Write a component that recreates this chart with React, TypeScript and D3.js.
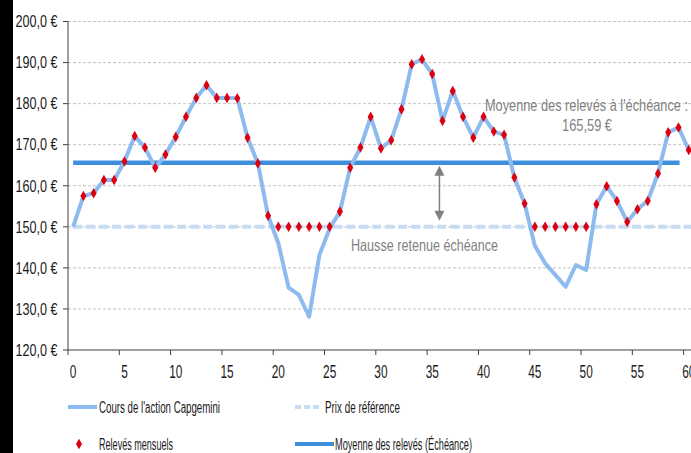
import React from "react";
import * as d3 from "d3";

// cours de l'action, mois 0 a 60
const cours = [
  150.0, 157.5, 158.2, 161.4, 161.4, 165.9, 172.1, 169.3, 164.4, 167.6, 171.9,
  176.8, 181.4, 184.5, 181.4, 181.4, 181.3, 171.7, 165.5, 152.7, 146.0,
  135.2, 133.4, 128.1, 143.1, 149.6, 153.7, 164.4, 169.3, 176.8, 169.1,
  171.1, 178.6, 189.6, 190.8, 187.2, 175.8, 183.1, 176.8, 171.7, 176.8,
  173.2, 172.4, 162.0, 155.7, 145.4, 141.1, 138.3, 135.4, 140.7, 139.5,
  155.5, 159.9, 156.3, 151.2, 154.3, 156.3, 163.0, 173.0, 174.2, 168.7,
];

// releves mensuels, mois 1 a 60
const releves = [
  157.5, 158.2, 161.4, 161.4, 165.9, 172.1, 169.3, 164.4, 167.6, 171.9,
  176.8, 181.4, 184.5, 181.4, 181.4, 181.3, 171.7, 165.5, 152.7, 150.0,
  150.0, 150.0, 150.0, 150.0, 150.0, 153.7, 164.4, 169.3, 176.8, 169.1,
  171.1, 178.6, 189.6, 190.8, 187.2, 175.8, 183.1, 176.8, 171.7, 176.8,
  173.2, 172.4, 162.0, 155.7, 150.0, 150.0, 150.0, 150.0, 150.0, 150.0,
  155.5, 159.9, 156.3, 151.2, 154.3, 156.3, 163.0, 173.0, 174.2, 168.7,
];

const prixReference = 150;
const moyenne = 165.59;
const moyenneSpan = [0, 59.1];
const referenceSpan = [0, 60.5];
const yTicks = [120, 130, 140, 150, 160, 170, 180, 190, 200];
const xTicks = [0, 5, 10, 15, 20, 25, 30, 35, 40, 45, 50, 55, 60];

const FONT = "'Liberation Sans', Arial, sans-serif";
const C_COURS = "#8dbbef";
const C_REF = "#c6dcf3";
const C_MOY = "#3d8fdc";
const C_MARK = "#dc0010";
const C_NOTE = "#7f7f7f";

const fmtEuro = (v: number) => v.toFixed(1).replace(".", ",") + " €";

// texte etroit (facon Arial Narrow) : largeur forcee
function Narrow(props: any) {
  const { w, children, ...rest } = props;
  return (
    <text fontFamily={FONT} textLength={w} lengthAdjust="spacingAndGlyphs" {...rest}>
      {children}
    </text>
  );
}

export default function App() {
  const width = 691;
  const height = 453;

  const x = d3.scaleLinear().domain([-0.5, 60.5]).range([68, 693.9]);
  const y = d3.scaleLinear().domain([120, 200]).range([350, 21.5]);

  const line = d3
    .line<number>()
    .x((d, i) => x(i))
    .y((d) => y(d));

  const diamond = d3.symbol().type(d3.symbolDiamond).size(32)() as string;

  const arrowX = x(35.7);
  const arrowTop = y(moyenne) + 3;
  const arrowBot = y(prixReference) - 6;

  return (
    <div style={{ position: "fixed", left: 0, top: 0 }}>
      <svg width={width} height={height} style={{ display: "block", background: "#fff" }}>
        <rect x={0} y={0} width={13} height={height} fill="#000" />

        {/* grille */}
        {yTicks.slice(1).map((t) => (
          <line
            key={"g" + t}
            x1={x(-0.5)}
            x2={width}
            y1={y(t)}
            y2={y(t)}
            stroke="#c3c3c3"
            strokeDasharray="3,2"
          />
        ))}

        {/* axes */}
        <line x1={x(-0.5)} x2={x(-0.5)} y1={y(200)} y2={y(120)} stroke="#404040" />
        <line x1={x(-0.5)} x2={width} y1={y(120)} y2={y(120)} stroke="#404040" />
        {yTicks.map((t) => (
          <g key={"y" + t}>
            <line x1={x(-0.5) - 5} x2={x(-0.5)} y1={y(t)} y2={y(t)} stroke="#404040" />
            <Narrow w={42} x={15.5} y={y(t)} dy="0.36em" fontSize={16} fill="#1a1a1a">
              {fmtEuro(t)}
            </Narrow>
          </g>
        ))}
        {xTicks.map((t) => (
          <g key={"x" + t}>
            <line x1={x(t - 0.5)} x2={x(t - 0.5)} y1={y(120)} y2={y(120) + 5} stroke="#404040" />
            <Narrow
              w={String(t).length * 6.6}
              x={x(t) - String(t).length * 3.3}
              y={377.5}
              fontSize={17.5}
              fill="#1a1a1a"
            >
              {t}
            </Narrow>
          </g>
        ))}

        {/* prix de reference */}
        <line
          x1={x(referenceSpan[0])}
          x2={x(referenceSpan[1])}
          y1={y(prixReference)}
          y2={y(prixReference)}
          stroke={C_REF}
          strokeWidth={4}
          strokeDasharray="9,4"
        />

        {/* moyenne */}
        <line
          x1={x(moyenneSpan[0])}
          x2={x(moyenneSpan[1])}
          y1={y(moyenne)}
          y2={y(moyenne)}
          stroke={C_MOY}
          strokeWidth={4.5}
        />

        {/* cours */}
        <path d={line(cours) || ""} fill="none" stroke={C_COURS} strokeWidth={4} strokeLinejoin="round" />

        {/* releves */}
        {releves.map((v, i) => (
          <path key={"r" + i} d={diamond} transform={`translate(${x(i + 1)},${y(v)})`} fill={C_MARK} />
        ))}

        {/* fleche */}
        <line x1={arrowX} x2={arrowX} y1={arrowTop + 8} y2={arrowBot - 8} stroke="#808080" strokeWidth={1.5} />
        <path d={`M${arrowX},${arrowTop} l-5,10 l10,0 Z`} fill="#808080" />
        <path d={`M${arrowX},${arrowBot} l-5,-10 l10,0 Z`} fill="#808080" />

        {/* annotations */}
        <Narrow w={203} x={485} y={y(178.2)} fontSize={16.5} fill={C_NOTE}>
          Moyenne des relevés à l'échéance :
        </Narrow>
        <Narrow w={50} x={562} y={y(178.2) + 20} fontSize={16.5} fill={C_NOTE}>
          165,59 €
        </Narrow>
        <Narrow w={147} x={351} y={y(144.1)} fontSize={16.5} fill={C_NOTE}>
          Hausse retenue échéance
        </Narrow>

        {/* legende */}
        <g fontSize={16} fill="#1a1a1a">
          <line x1={68} x2={97} y1={407} y2={407} stroke={C_COURS} strokeWidth={4} />
          <Narrow w={121} x={99} y={407} dy="0.36em">Cours de l'action Capgemini</Narrow>
          <line x1={295} x2={321} y1={407} y2={407} stroke={C_REF} strokeWidth={4} strokeDasharray="6,3" />
          <Narrow w={75} x={325} y={407} dy="0.36em">Prix de référence</Narrow>
          <path d={diamond} transform="translate(79,444)" fill={C_MARK} />
          <Narrow w={74} x={99} y={444} dy="0.36em">Relevés mensuels</Narrow>
          <line x1={295} x2={334} y1={444} y2={444} stroke={C_MOY} strokeWidth={4} />
          <Narrow w={137} x={335} y={444} dy="0.36em">Moyenne des relevés (Échéance)</Narrow>
        </g>
      </svg>
    </div>
  );
}
